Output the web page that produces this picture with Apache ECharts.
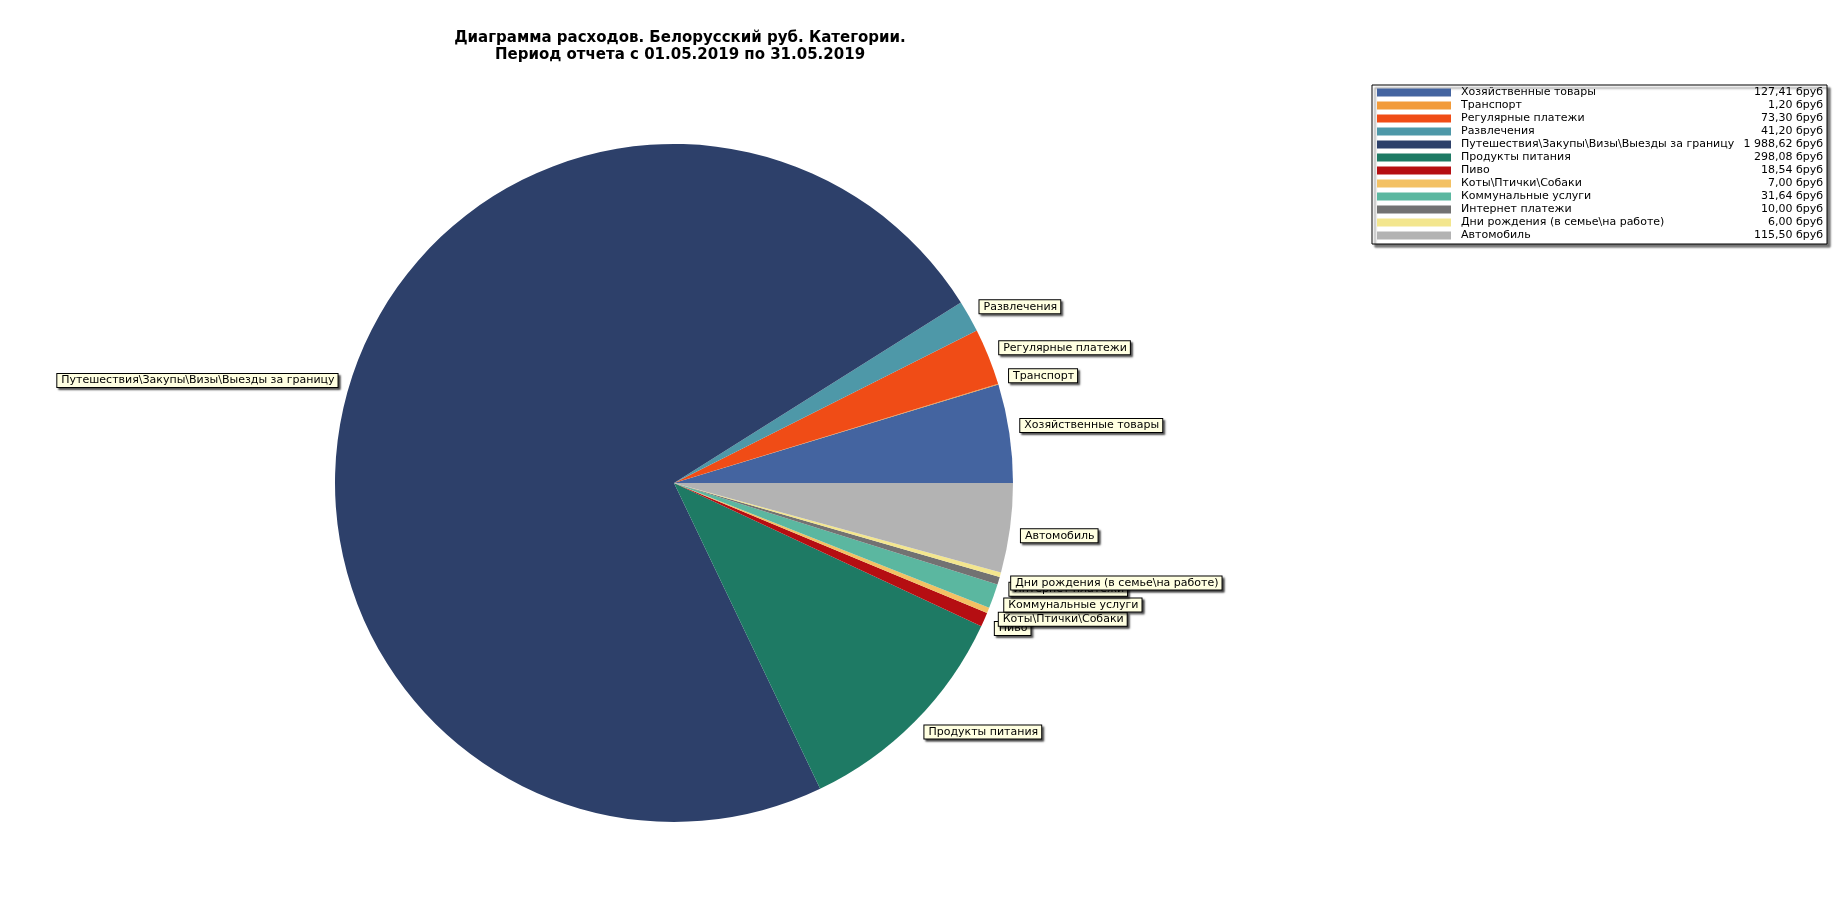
<!DOCTYPE html>
<html lang="ru">
<head>
    <meta charset="UTF-8">
    <title>Диаграмма расходов</title>
    <script type="text/javascript" src="https://cdn.jsdelivr.net/npm/echarts@6/dist/echarts.min.js"></script>
    <style>
        html, body { margin: 0; padding: 0; background: #fff; }
        #chart { width: 1848px; height: 914px; }
    </style>
</head>
<body>
<div id="chart"></div>
<script type="text/javascript">
    var categories = [
        'Хозяйственные товары',
        'Транспорт',
        'Регулярные платежи',
        'Развлечения',
        'Путешествия\\Закупы\\Визы\\Выезды за границу',
        'Продукты питания',
        'Пиво',
        'Коты\\Птички\\Собаки',
        'Коммунальные услуги',
        'Интернет платежи',
        'Дни рождения (в семье\\на работе)',
        'Автомобиль'
    ];
    var amounts = [127.41, 1.20, 73.30, 41.20, 1988.62, 298.08, 18.54, 7.00, 31.64, 10.00, 6.00, 115.50];
    var colors = ['#4464a0', '#f29b3a', '#f04c16', '#4e98a8', '#2d406a', '#1e7a64',
                  '#b50e12', '#f3c164', '#5bb7a0', '#727272', '#f3e68e', '#b3b3b3'];
    var titleLines = ['Диаграмма расходов. Белорусский руб. Категории.',
                      'Период отчета с 01.05.2019 по 31.05.2019'];
    var currency = 'бруб';

    function fmt(v) {
        var parts = v.toFixed(2).split('.');
        var intPart = parts[0].replace(/\B(?=(\d{3})+(?!\d))/g, ' ');
        return intPart + ',' + parts[1] + ' ' + currency;
    }

    var valueByName = {};
    var pieData = categories.map(function (name, i) {
        valueByName[name] = amounts[i];
        return { name: name, value: amounts[i], itemStyle: { color: colors[i] } };
    });

    // mid angle of each slice (counter-clockwise from 3 o'clock) to push labels up/down
    var total = amounts.reduce(function (a, b) { return a + b; }, 0);
    var acc = 0;
    var midSin = amounts.map(function (v) {
        var mid = (acc + v / 2) / total * 2 * Math.PI;
        acc += v;
        return Math.sin(mid);
    });

    var chart = echarts.init(document.getElementById('chart'));

    var option = {
        animation: false,
        title: {
            text: titleLines.join('\n'),
            left: 675,
            top: 25,
            textAlign: 'center',
            textStyle: {
                fontFamily: 'DejaVu Sans',
                fontWeight: 'bold',
                fontSize: 15,
                lineHeight: 17,
                color: '#000'
            }
        },
        legend: {
            orient: 'vertical',
            left: 1372,
            top: 85,
            icon: 'rect',
            itemWidth: 74,
            itemHeight: 8,
            itemGap: 0,
            selectedMode: false,
            padding: [1, 4, 2, 5],
            backgroundColor: '#fff',
            borderColor: '#000',
            borderWidth: 1,
            shadowColor: 'rgba(0,0,0,0.55)',
            shadowBlur: 2,
            shadowOffsetX: 3,
            shadowOffsetY: 3,
            data: categories,
            formatter: function (name) {
                return '{n|' + name + '}{v|' + fmt(valueByName[name]) + '}';
            },
            textStyle: {
                fontFamily: 'DejaVu Sans',
                fontSize: 11,
                lineHeight: 13,
                color: '#000',
                rich: {
                    n: { fontFamily: 'DejaVu Sans', fontSize: 11, lineHeight: 13, width: 284, padding: [0, 0, 0, 5] },
                    v: { fontFamily: 'DejaVu Sans', fontSize: 11, lineHeight: 13, width: 78, align: 'right' }
                }
            }
        },
        series: [{
            type: 'pie',
            center: [674, 483],
            radius: 339,
            startAngle: 0,
            clockwise: false,
            avoidLabelOverlap: false,
            emphasis: { disabled: true },
            itemStyle: { borderWidth: 0 },
            label: {
                show: true,
                position: 'outside',
                distanceToLabelLine: 6,
                fontFamily: 'DejaVu Sans',
                fontSize: 11,
                lineHeight: 12,
                color: '#000',
                backgroundColor: '#ffffe1',
                borderColor: '#000',
                borderWidth: 1,
                padding: [1, 3, 0, 4],
                shadowColor: 'rgba(0,0,0,0.6)',
                shadowBlur: 2,
                shadowOffsetX: 2,
                shadowOffsetY: 2
            },
            labelLine: { show: false, length: 5, length2: 0 },
            labelLayout: function (params) {
                return { dy: midSin[params.dataIndex] > 0 ? -7 : 7 };
            },
            data: pieData
        }]
    };

    chart.setOption(option);
    window.onresize = function () { chart.resize(); };
</script>
</body>
</html>
